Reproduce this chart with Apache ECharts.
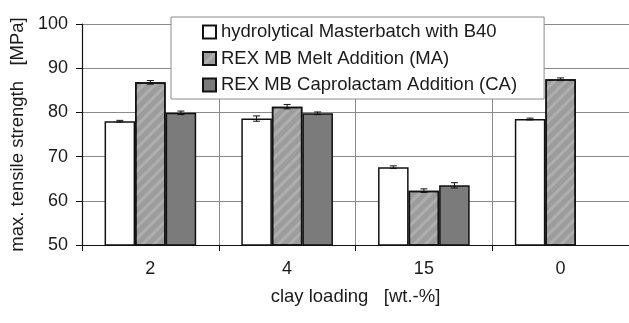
<!DOCTYPE html>
<html>
<head>
<meta charset="utf-8">
<script src="https://cdn.jsdelivr.net/npm/echarts@6/dist/echarts.min.js"></script>
<style>
  html, body { margin: 0; padding: 0; background: #fff; }
  #chart { width: 629px; height: 323px; }
</style>
</head>
<body>
<div id="chart"></div>
<script>
// clay loading categories
const categories = ['2', '4', '15', '0'];
const seriesNames = [
    'hydrolytical Masterbatch with B40',
    'REX MB Melt Addition (MA)',
    'REX MB Caprolactam Addition (CA)'
];
// tensile strength values [MPa]
const hydroValues = [78.0, 78.6, 67.6, 78.5];
const meltValues = [86.8, 81.3, 62.3, 87.5];
const caproValues = [79.9, 79.8, 63.5, null];
// standard deviations
const hydroErr = [0.2, 0.6, 0.3, 0.2];
const meltErr = [0.4, 0.5, 0.4, 0.3];
const caproErr = [0.4, 0.3, 0.6, null];
const yTicks = [50, 60, 70, 80, 90, 100];

(function() {
    const chart = echarts.init(document.getElementById('chart'));
    const font = 'Liberation Sans, Arial, sans-serif';
    const textColor = '#1a1a1a';
    const gapRatio = 0.33;

    // error bar data: [catIndex, value, err, seriesIndex]
    const errData = [];
    [[hydroValues, hydroErr], [meltValues, meltErr], [caproValues, caproErr]].forEach((pair, s) => {
        pair[0].forEach((v, i) => {
            if (v != null) errData.push([i, v, pair[1][i], s]);
        });
    });

    function renderError(params, api) {
        const cat = api.value(0);
        const val = api.value(1);
        const err = api.value(2);
        const s = api.value(3);
        const band = api.size([1, 0])[0];
        const barW = band * (1 - gapRatio) / 3;
        const cx = api.coord([cat, val])[0] + (s - 1) * barW;
        const top = api.coord([cat, val + err])[1];
        const bot = api.coord([cat, val - err])[1];
        const cap = 3.5;
        const style = { stroke: '#111', lineWidth: 1 };
        return {
            type: 'group',
            children: [
                { type: 'line', shape: { x1: cx, y1: top, x2: cx, y2: bot }, style: style },
                { type: 'line', shape: { x1: cx - cap, y1: top, x2: cx + cap, y2: top }, style: style },
                { type: 'line', shape: { x1: cx - cap, y1: bot, x2: cx + cap, y2: bot }, style: style }
            ]
        };
    }

    const barBorder = { borderColor: '#111', borderWidth: 1.5 };

    chart.setOption({
        animation: false,
        backgroundColor: '#fff',
        textStyle: { fontFamily: font, color: textColor },
        grid: { left: 82, top: 24, width: 550, height: 221 },
        legend: {
            orient: 'vertical',
            left: 171,
            top: 17,
            padding: [5, 27, 4, 31],
            itemGap: 6.5,
            itemWidth: 13,
            itemHeight: 13,
            backgroundColor: '#fff',
            borderColor: '#8a8a8a',
            borderWidth: 1,
            icon: 'rect',
            textStyle: { fontFamily: font, fontSize: 18.5, color: textColor, lineHeight: 20 },
            data: seriesNames
        },
        xAxis: {
            type: 'category',
            data: categories,
            name: 'clay loading   [wt.-%]',
            nameLocation: 'middle',
            nameGap: 42,
            nameTextStyle: { fontFamily: font, fontSize: 18.5, color: textColor },
            axisLine: { lineStyle: { color: '#111', width: 1.2 } },
            axisTick: { show: true, length: 6, lineStyle: { color: '#111' } },
            axisLabel: { fontFamily: font, fontSize: 18, color: textColor, margin: 15 },
            splitLine: { show: true, lineStyle: { color: '#8a8a8a', width: 1 } }
        },
        yAxis: {
            type: 'value',
            min: yTicks[0],
            max: yTicks[yTicks.length - 1],
            interval: 10,
            name: 'max. tensile strength   [MPa]',
            nameLocation: 'middle',
            nameGap: 55,
            nameTextStyle: { fontFamily: font, fontSize: 18.5, color: textColor },
            axisLine: { show: true, lineStyle: { color: '#111', width: 1.2 } },
            axisTick: { show: true, length: 6, lineStyle: { color: '#111' } },
            axisLabel: { fontFamily: font, fontSize: 18, color: textColor, margin: 14 },
            splitLine: { show: true, lineStyle: { color: '#8a8a8a', width: 1 } }
        },
        series: [
            {
                name: seriesNames[0],
                type: 'bar',
                data: hydroValues,
                barGap: 0,
                barCategoryGap: '33%',
                itemStyle: Object.assign({ color: '#ffffff' }, barBorder)
            },
            {
                name: seriesNames[1],
                type: 'bar',
                data: meltValues,
                itemStyle: Object.assign({
                    color: '#9c9c9c',
                    decal: {
                        symbol: 'rect',
                        symbolSize: 1,
                        color: 'rgba(255,255,255,0.18)',
                        dashArrayX: [1, 0],
                        dashArrayY: [3, 5],
                        rotation: -Math.PI / 4
                    }
                }, barBorder)
            },
            {
                name: seriesNames[2],
                type: 'bar',
                data: caproValues,
                itemStyle: Object.assign({ color: '#7b7b7b' }, barBorder)
            },
            {
                type: 'custom',
                renderItem: renderError,
                data: errData,
                encode: { x: 0, y: 1 },
                z: 5,
                silent: true
            }
        ]
    });
})();
</script>
</body>
</html>
